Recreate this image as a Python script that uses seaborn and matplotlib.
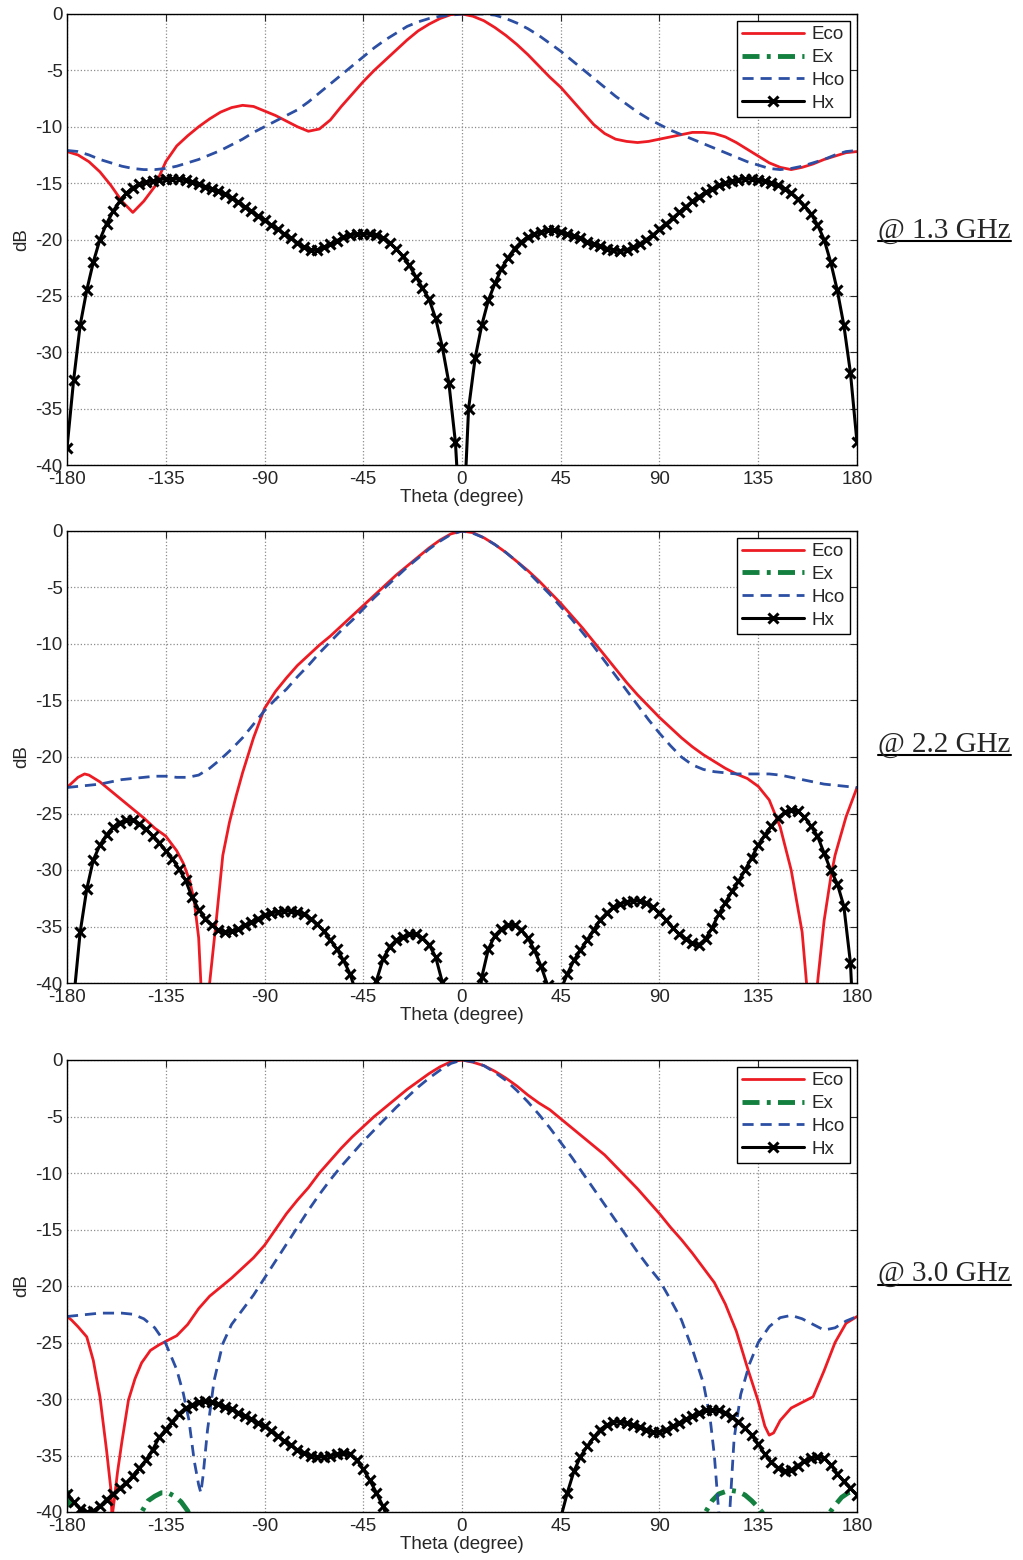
import numpy as np
import pandas as pd
import seaborn as sns
import matplotlib.pyplot as plt
from matplotlib.lines import Line2D

sns.set_style('white')
plt.rcParams['font.family'] = ['Liberation Sans', 'DejaVu Sans']
plt.rcParams['axes.unicode_minus'] = False

nan = np.nan
theta5 = np.arange(-180, 181, 5)
theta3 = np.arange(-180, 181, 3)

# ---------------- 1.3 GHz ----------------
eco_13 = [-12.2, -12.5, -13.1, -14.0, -15.2, -16.6, -17.6, -16.6, -15.3, -13.1,
          -11.7, -10.8, -10.0, -9.3, -8.7, -8.3, -8.1, -8.2, -8.6, -9.0,
          -9.5, -10.0, -10.4, -10.2, -9.4, -8.2, -7.1, -6.0, -5.0, -4.1,
          -3.2, -2.3, -1.5, -0.9, -0.4, -0.05, 0.0, -0.2, -0.6, -1.2,
          -1.9, -2.7, -3.6, -4.6, -5.6, -6.5, -7.6, -8.7, -9.8, -10.6,
          -11.1, -11.3, -11.4, -11.3, -11.1, -10.9, -10.7, -10.5, -10.5, -10.6,
          -10.9, -11.4, -12.0, -12.6, -13.2, -13.6, -13.8, -13.6, -13.3, -12.9,
          -12.6, -12.3, -12.2]
hco_13 = [-12.1, -12.2, -12.5, -12.9, -13.2, -13.5, -13.7, -13.8, -13.8, -13.7,
          -13.5, -13.2, -12.9, -12.5, -12.1, -11.6, -11.1, -10.5, -10.0, -9.5,
          -9.0, -8.5, -7.8, -7.0, -6.2, -5.4, -4.6, -3.8, -3.0, -2.3,
          -1.7, -1.1, -0.7, -0.4, -0.2, -0.1, 0.0, 0.0, 0.0, -0.1,
          -0.4, -0.8, -1.3, -1.9, -2.6, -3.3, -4.1, -4.9, -5.7, -6.5,
          -7.3, -8.0, -8.7, -9.3, -9.8, -10.3, -10.7, -11.1, -11.5, -11.9,
          -12.3, -12.7, -13.1, -13.4, -13.7, -13.8, -13.7, -13.5, -13.2, -12.9,
          -12.5, -12.2, -12.1]
hx_13 = [-38.5, -32.5, -27.6, -24.5, -22.0, -20.0, -18.6, -17.5, -16.6, -15.9,
         -15.4, -15.1, -14.9, -14.8, -14.7, -14.6, -14.6, -14.6, -14.7, -14.9,
         -15.1, -15.3, -15.5, -15.7, -16.0, -16.3, -16.7, -17.1, -17.5, -17.9,
         -18.3, -18.7, -19.1, -19.5, -19.9, -20.3, -20.7, -20.9, -20.9, -20.7,
         -20.4, -20.1, -19.8, -19.6, -19.5, -19.5, -19.5, -19.6, -19.9, -20.3,
         -20.8, -21.5, -22.3, -23.3, -24.3, -25.3, -27.0, -29.5, -32.7, -38.0,
         -48.0,
         -35.0, -30.5, -27.6, -25.4, -23.9, -22.6, -21.6, -20.8, -20.2, -19.8,
         -19.5, -19.3, -19.2, -19.2, -19.3, -19.5, -19.7, -19.9, -20.2, -20.4,
         -20.6, -20.8, -20.9, -21.0, -20.9, -20.7, -20.4, -20.0, -19.6, -19.1,
         -18.6, -18.1, -17.6, -17.1, -16.6, -16.2, -15.8, -15.5, -15.2, -15.0,
         -14.8, -14.7, -14.6, -14.6, -14.7, -14.8, -15.0, -15.2, -15.5, -15.9,
         -16.4, -17.0, -17.7, -18.7, -20.0, -22.0, -24.5, -27.6, -31.8, -38.0]

# ---------------- 2.2 GHz ----------------
eco_22_theta = [-180, -175, -172, -170, -165, -160, -155, -150, -145, -140,
                -135, -130, -127, -124, -122, -120, -119, -117, -115, -112,
                -109, -106, -103, -100, -95, -90, -85, -80, -75, -70,
                -65, -60, -55, -50, -45, -40, -35, -30, -25, -20,
                -15, -10, -5, 0, 5, 10, 15, 20, 25, 30,
                35, 40, 45, 50, 55, 60, 65, 70, 75, 80,
                85, 90, 95, 100, 105, 110, 115, 120, 125, 130,
                135, 140, 145, 150, 155, 157, 159, 162, 165, 168,
                170, 175, 180]
eco_22 = [-22.7, -21.8, -21.5, -21.6, -22.2, -23.0, -23.8, -24.6, -25.4, -26.3,
          -27.0, -28.3, -29.4, -31.0, -32.8, -36.0, -40.0, -50.0, -40.0, -34.5,
          -28.7, -25.8, -23.5, -21.4, -18.3, -15.7, -14.2, -13.0, -11.9, -11.0,
          -10.1, -9.3, -8.4, -7.5, -6.6, -5.7, -4.8, -3.9, -3.1, -2.3,
          -1.5, -0.8, -0.25, 0.0, -0.15, -0.6, -1.2, -1.9, -2.7, -3.5,
          -4.4, -5.4, -6.4, -7.5, -8.6, -9.8, -11.0, -12.2, -13.4, -14.5,
          -15.5, -16.5, -17.4, -18.3, -19.1, -19.8, -20.4, -21.0, -21.5, -21.9,
          -22.6, -23.8, -26.2, -30.0, -35.5, -40.0, -50.0, -40.0, -34.5, -30.7,
          -28.7, -25.3, -22.7]
hco_22 = [-22.7, -22.6, -22.5, -22.4, -22.2, -22.0, -21.9, -21.8, -21.7, -21.7,
          -21.8, -21.8, -21.6, -21.0, -20.2, -19.3, -18.3, -17.1, -15.9, -14.9,
          -14.0, -12.9, -11.9, -10.8, -9.8, -8.8, -7.9, -6.9, -5.9, -5.0,
          -4.1, -3.2, -2.4, -1.6, -0.9, -0.3, 0.0, -0.2, -0.6, -1.2,
          -1.9, -2.7, -3.6, -4.6, -5.6, -6.7, -7.8, -9.0, -10.2, -11.5,
          -12.8, -14.1, -15.4, -16.7, -17.9, -19.0, -20.0, -20.7, -21.1, -21.3,
          -21.4, -21.5, -21.5, -21.5, -21.5, -21.6, -21.8, -22.0, -22.2, -22.4,
          -22.5, -22.6, -22.7]
hx_22 = [-50.0, -41.5, -35.5, -31.7, -29.1, -27.8, -26.9, -26.2, -25.8, -25.6,
         -25.6, -25.9, -26.4, -27.0, -27.6, -28.3, -29.0, -29.9, -30.9, -32.4,
         -33.5, -34.3, -34.9, -35.3, -35.5, -35.4, -35.2, -34.9, -34.6, -34.3,
         -34.0, -33.8, -33.7, -33.6, -33.6, -33.7, -33.9, -34.3, -34.8, -35.4,
         -36.2, -37.0, -38.0, -39.2, -41.0, -45.0, -45.0, -39.8, -37.9, -36.8,
         -36.2, -35.9, -35.7, -35.7, -36.0, -36.6, -37.7, -39.9, -45.0, -50.0,
         -50.0,
         -50.0, -45.0, -39.5, -37.0, -35.8, -35.2, -34.9, -34.9, -35.3, -36.0,
         -37.1, -38.5, -40.2, -45.0, -40.6, -39.2, -38.0, -37.1, -36.2, -35.3,
         -34.4, -33.8, -33.3, -33.0, -32.8, -32.7, -32.7, -32.9, -33.3, -33.8,
         -34.4, -35.1, -35.7, -36.1, -36.5, -36.6, -36.1, -35.1, -33.9, -32.9,
         -31.9, -31.0, -30.0, -28.9, -27.8, -26.9, -26.1, -25.4, -24.9, -24.7,
         -24.8, -25.3, -26.1, -27.0, -28.5, -30.0, -31.2, -33.2, -38.2, -50.0]

# ---------------- 3.0 GHz ----------------
eco_30_theta = [-180, -178, -175, -171, -168, -165, -162, -160, -159.5, -158.5,
                -157, -155, -152, -149, -146, -142, -138, -134, -130, -125,
                -120, -115, -110, -105, -100, -95, -90, -85, -80, -75,
                -70, -65, -60, -55, -50, -45, -40, -35, -30, -25,
                -20, -15, -10, -5, 0, 5, 10, 15, 20, 25,
                30, 35, 40, 45, 50, 55, 60, 65, 70, 75,
                80, 85, 90, 95, 100, 105, 110, 115, 120, 125,
                130, 135, 138, 140, 142, 145, 150, 155, 160, 165,
                170, 175, 180]
eco_30 = [-22.7, -23.0, -23.6, -24.5, -26.6, -29.8, -34.5, -38.0, -40.5, -39.0,
          -36.5, -33.8, -30.1, -28.2, -26.8, -25.7, -25.2, -24.8, -24.4, -23.4,
          -22.0, -20.9, -20.1, -19.3, -18.4, -17.5, -16.4, -15.0, -13.6, -12.4,
          -11.3, -10.0, -8.9, -7.8, -6.8, -5.9, -5.0, -4.2, -3.4, -2.6,
          -1.9, -1.2, -0.6, -0.15, 0.0, -0.2, -0.5, -1.0, -1.6, -2.3,
          -3.1, -3.8, -4.4, -5.2, -6.0, -6.8, -7.6, -8.4, -9.4, -10.4,
          -11.4, -12.5, -13.6, -14.8, -15.9, -17.1, -18.4, -19.7, -21.6, -24.0,
          -27.2, -30.2, -32.4, -33.2, -33.0, -31.9, -30.8, -30.3, -29.8, -27.5,
          -25.0, -23.3, -22.7]
hco_30_theta = [-180, -175, -170, -165, -160, -155, -150, -145, -140, -135,
                -130, -127, -124.5, -122, -120, -119, -118, -116, -113, -109,
                -105, -100, -95, -90, -85, -80, -75, -70, -65, -60,
                -55, -50, -45, -40, -35, -30, -25, -20, -15, -10,
                -5, 0, 5, 10, 15, 20, 25, 30, 35, 40,
                45, 50, 55, 60, 65, 70, 75, 80, 85, 90,
                95, 100, 105, 110, 113, 115, 117, 119.5, 122, 124,
                127, 131, 135, 140, 145, 150, 155, 160, 165, 170,
                175, 180]
hco_30 = [-22.7, -22.6, -22.5, -22.4, -22.4, -22.4, -22.5, -22.9, -23.7, -25.1,
          -27.4, -29.5, -31.8, -35.5, -37.6, -38.3, -36.8, -32.8, -28.4, -25.1,
          -23.4, -22.1, -20.8, -19.3, -17.8, -16.3, -14.8, -13.3, -11.9, -10.6,
          -9.4, -8.3, -7.2, -6.2, -5.2, -4.2, -3.3, -2.4, -1.6, -0.9,
          -0.3, 0.0, -0.15, -0.5, -1.1, -1.8, -2.7, -3.7, -4.8, -6.0,
          -7.3, -8.6, -10.0, -11.4, -12.8, -14.2, -15.6, -17.0, -18.3, -19.5,
          -21.2, -23.0, -25.6, -28.6, -31.6, -35.0, -40.0, -50.0, -40.0, -33.5,
          -29.6, -26.9, -25.0, -23.6, -22.8, -22.6, -22.9, -23.4, -23.9, -23.7,
          -23.1, -22.7]
ex_30_theta = [-180, -178, -176, -160, -148, -146, -143, -140, -137, -134,
               -131, -128, -125, -123, 0, 108, 111, 114, 117, 120,
               123, 126, 129, 132, 135, 138, 140, 150, 164, 167,
               170, 173, 176, 180]
ex_30 = [-38.1, -39.8, -42.0, nan, -42.0, -40.0, -39.0, -38.6, -38.3, -38.3,
         -38.6, -39.1, -39.9, -41.0, nan, -42.0, -40.0, -39.0, -38.4, -38.2,
         -38.1, -38.2, -38.5, -39.0, -39.6, -40.3, -41.5, nan, -42.0, -40.2,
         -39.4, -38.7, -38.3, -38.1]
hx_30_left_theta = np.arange(-180, -32, 3)
hx_30_left = [-38.4, -39.1, -39.7, -40.0, -39.9, -39.5, -38.9, -38.4, -37.9, -37.4,
              -36.8, -36.1, -35.4, -34.5, -33.4, -32.7, -32.0, -31.3, -30.8, -30.5,
              -30.3, -30.2, -30.3, -30.4, -30.7, -30.9, -31.2, -31.5, -31.8, -32.1,
              -32.4, -32.8, -33.3, -33.7, -34.1, -34.5, -34.8, -35.0, -35.1, -35.1,
              -35.0, -34.9, -34.8, -34.9, -35.4, -36.2, -37.2, -38.3, -39.5, -41.0]
hx_30_right_theta = np.arange(42, 181, 3)
hx_30_right = [-45.0, -40.5, -38.3, -36.4, -35.1, -34.2, -33.4, -32.7, -32.3, -32.0,
               -32.0, -32.1, -32.3, -32.5, -32.7, -32.9, -32.9, -32.7, -32.4, -32.1,
               -31.8, -31.5, -31.2, -31.0, -31.0, -31.0, -31.2, -31.6, -32.0, -32.6,
               -33.2, -34.0, -34.9, -35.6, -36.1, -36.4, -36.3, -35.9, -35.5, -35.2,
               -35.1, -35.2, -35.8, -36.6, -37.3, -37.9, -38.5]

STYLE = {
    'Eco': dict(color='#ed1c24', lw=2.0),
    'Ex': dict(color='#13803f', lw=3.5, linestyle=(0, (3.5, 1.5, 0.8, 1.5))),
    'Hco': dict(color='#2c4fa3', lw=2.0, linestyle=(0, (4, 2.5))),
    'Hx': dict(color='black', lw=2.2, marker='x', markersize=7,
               markeredgewidth=2.2, markeredgecolor='black'),
}


def draw(ax, theta, vals, name):
    df = pd.DataFrame({'theta': np.asarray(theta, float), 'dB': np.asarray(vals, float)})
    assert len(theta) == len(vals), name
    ok = df['dB'].notna()
    seg = (~ok).cumsum()
    for _, part in df[ok].groupby(seg[ok]):
        sns.lineplot(data=part, x='theta', y='dB', ax=ax, sort=False,
                     estimator=None, **STYLE[name])


panels = [
    ('@ 1.3 GHz', [(theta5, eco_13, 'Eco'), (theta5, hco_13, 'Hco'), (theta3, hx_13, 'Hx')]),
    ('@ 2.2 GHz', [(eco_22_theta, eco_22, 'Eco'), (theta5, hco_22, 'Hco'), (theta3, hx_22, 'Hx')]),
    ('@ 3.0 GHz', [(eco_30_theta, eco_30, 'Eco'), (ex_30_theta, ex_30, 'Ex'),
                   (hco_30_theta, hco_30, 'Hco'),
                   (hx_30_left_theta, hx_30_left, 'Hx'), (hx_30_right_theta, hx_30_right, 'Hx')]),
]

fig = plt.figure(figsize=(10.23, 15.6), dpi=100)
W, H = 1023, 1560
boxes = [(14, 465), (531, 983), (1060, 1512)]
note_y = [237.5, 751.5, 1281.0]
FS = 13.5

notes = []
for (title, curves), (top, bot), ny in zip(panels, boxes, note_y):
    ax = fig.add_axes([67 / W, 1 - bot / H, 790 / W, (bot - top) / H])
    for th, v, name in curves:
        draw(ax, th, v, name)
    ax.set_xlim(-180, 180)
    ax.set_ylim(-40, 0)
    ax.set_xticks(np.arange(-180, 181, 45))
    ax.set_yticks(np.arange(-40, 1, 5))
    ax.grid(True, color='#8c8c8c', linestyle=':', linewidth=0.9)
    ax.tick_params(direction='in', top=True, right=True, length=5, width=0.8,
                   labelsize=FS)
    ax.tick_params(axis='x', pad=4)
    ax.tick_params(axis='y', pad=3)
    for s in ax.spines.values():
        s.set_color('black')
        s.set_linewidth(1.0)
    ax.set_xlabel('Theta (degree)', fontsize=FS, labelpad=1)
    ax.set_ylabel('dB', fontsize=FS, labelpad=4)

    handles = [Line2D([], [], **STYLE[k]) for k in ['Eco', 'Ex', 'Hco', 'Hx']]
    leg = ax.legend(handles, ['Eco', 'Ex', 'Hco', 'Hx'], loc='upper right',
                    fontsize=FS, fancybox=False, edgecolor='black', framealpha=1,
                    borderaxespad=0.35, borderpad=0.3, labelspacing=0.3,
                    handlelength=3.3, handletextpad=0.4, numpoints=1)
    leg.get_frame().set_linewidth(1.0)

    t = fig.text(878 / W, 1 - ny / H, title, family=['Liberation Serif', 'DejaVu Serif'],
                 fontsize=21, va='baseline', ha='left')
    notes.append((t, ny))

fig.canvas.draw()
r = fig.canvas.get_renderer()
for t, ny in notes:
    bb = t.get_window_extent(r)
    yl = 1 - (ny + 3.5) / H
    fig.add_artist(Line2D([bb.x0 / W, bb.x1 / W], [yl, yl], transform=fig.transFigure,
                          color='black', lw=1.5))

fig.savefig('out.png', dpi=100, facecolor='white')
